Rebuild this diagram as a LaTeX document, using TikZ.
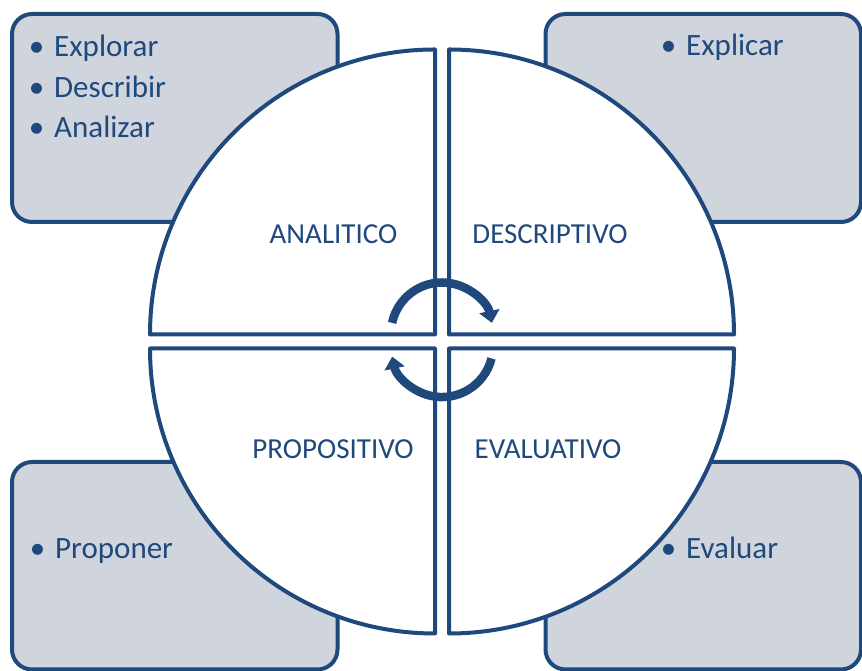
\documentclass[tikz,border=0pt]{standalone}
\usepackage{fontspec}
\setmainfont{Carlito}
\usetikzlibrary{arrows.meta}
\definecolor{navy}{RGB}{31,73,125}
\definecolor{boxfill}{RGB}{208,212,221}
\begin{document}
\begin{tikzpicture}[x=1pt,y=1pt,
 box/.style={draw=navy, fill=boxfill, line width=4pt, rounded corners=20pt},
 quad/.style={draw=navy, fill=white, line width=4pt, line join=round},
 item/.style={anchor=base west, inner sep=0pt, text=navy, font=\fontsize{31}{33}\selectfont},
 lab/.style={inner sep=0pt, text=navy, font=\fontsize{29}{31}\selectfont},
 cyc/.style={draw=navy, line width=8.5pt, -{Triangle[width=20pt,length=12pt]}}]
\useasboundingbox (0,0) rectangle (862,671);
\clip (0,0) rectangle (862,671);
% corner boxes
\draw[box] (12,657) rectangle (337.5,449);
\draw[box] (545.5,657) rectangle (861,449);
\draw[box] (12,209) rectangle (337.5,1.5);
\draw[box] (545.5,209) rectangle (861,1.5);
% quadrants
\draw[quad] (435,336.5) -- (150,336.5) arc[start angle=180,end angle=90,radius=285] -- cycle;
\draw[quad] (449,336.5) -- (449,621.5) arc[start angle=90,end angle=0,radius=285] -- cycle;
\draw[quad] (435,322.5) -- (435,37.5) arc[start angle=270,end angle=180,radius=285] -- cycle;
\draw[quad] (449,322.5) -- (734,322.5) arc[start angle=0,end angle=-90,radius=285] -- cycle;
% cycle arrows
\draw[cyc] (392.1,348.1) arc[start angle=168,end angle=12,radius=51];
\draw[cyc] (491.5,312.6) arc[start angle=-14,end angle=-168,radius=51];
% box texts
\node[item] (t1) at (54,614) {\llap{•\hspace{10pt}}Explorar};
\node[item] (t2) at (54,573.5) {\llap{•\hspace{10pt}}Describir};
\node[item] (t3) at (54,533) {\llap{•\hspace{10pt}}Analizar};
\node[item] (t4) at (686,615) {\llap{•\hspace{10pt}}Explicar};
\node[item] (t5) at (55,112) {\llap{•\hspace{10pt}}Proponer};
\node[item] (t6) at (686,112) {\llap{•\hspace{10pt}}Evaluar};
% quadrant labels
\node[lab] (q1) at (333.5,437) {ANALITICO};
\node[lab] (q2) at (550,437) {DESCRIPTIVO};
\node[lab] (q3) at (333,222) {PROPOSITIVO};
\node[lab] (q4) at (548,222) {EVALUATIVO};
\end{tikzpicture}
\end{document}
